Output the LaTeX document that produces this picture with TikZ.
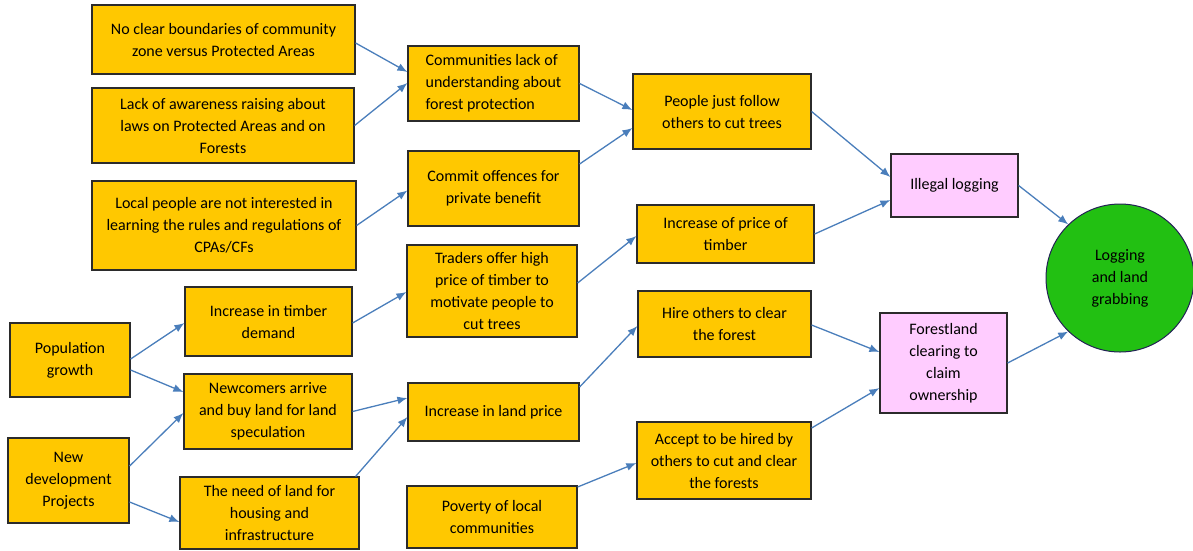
\documentclass[tikz,border=0pt]{standalone}
\usepackage{fontspec}
\setmainfont{Carlito}
\usetikzlibrary{calc,arrows.meta}
\definecolor{boxyellow}{HTML}{FFC800}
\definecolor{boxpink}{HTML}{FFCCFF}
\definecolor{goalgreen}{HTML}{22C012}
\definecolor{arrowblue}{HTML}{4A7EBB}
\definecolor{edge}{HTML}{2B2B2B}
\tikzset{
  cause/.style={draw=edge, line width=1.2pt, fill=boxyellow, align=center,
    inner sep=2pt, text=black, font=\fontsize{16}{22}\selectfont},
  effect/.style={cause, fill=boxpink},
  goal/.style={circle, draw=edge!80!blue, line width=1pt, fill=goalgreen, align=center,
    text=black, font=\fontsize{16}{22}\selectfont, inner sep=0pt},
  link/.style={draw=arrowblue, line width=1.3pt, -{Latex[length=10pt,width=8pt]}}
}
\newcommand{\boxat}[6]{% name, style, cx, cy, width, height
  \node[#2, minimum width=#5pt, minimum height=#6pt] (#1) at (#3,#4)}
\begin{document}
\begin{tikzpicture}[x=1pt,y=-1pt]
\useasboundingbox (0,0) rectangle (1193,550);

% root causes
\boxat{noclear}{cause}{223.5}{39.5}{263}{69} {No clear boundaries of community\\zone versus Protected Areas};
\boxat{lack}{cause}{223}{125.5}{262}{75} {Lack of awareness raising about\\laws on Protected Areas and on\\Forests};
\boxat{local}{cause}{224}{225.5}{264}{89} {Local people are not interested in\\learning the rules and regulations of\\CPAs/CFs};
\boxat{pop}{cause}{70}{360}{120}{74} {Population\\growth};
\boxat{newdev}{cause}{68.5}{480.5}{121}{85} {New\\development\\Projects};

% second column
\boxat{timberdem}{cause}{268.5}{321.5}{167}{69} {Increase in timber\\demand};
\boxat{newcomers}{cause}{268}{411.5}{168}{75} {Newcomers arrive\\and buy land for land\\speculation};
\boxat{needland}{cause}{269.5}{513}{179}{72} {The need of land for\\housing and\\infrastructure};

% third column
\boxat{commlack}{cause,align=left}{493.5}{83.5}{171}{75} {Communities lack of\\understanding about\\forest protection};
\boxat{commit}{cause}{493.5}{188.5}{171}{75} {Commit offences for\\private benefit};
\boxat{traders}{cause}{492}{291}{170}{92} {Traders offer high\\price of timber to\\motivate people to\\cut trees};
\boxat{landprice}{cause}{493.5}{412}{171}{58} {Increase in land price};
\boxat{poverty}{cause}{492}{517}{170}{62} {Poverty of local\\communities};

% fourth column
\boxat{people}{cause}{722}{111.5}{178}{75} {People just follow\\others to cut trees};
\boxat{priceT}{cause}{725.5}{234}{177}{58} {Increase of price of\\timber};
\boxat{hire}{cause}{724.5}{324}{173}{66} {Hire others to clear\\the forest};
\boxat{accept}{cause}{724}{460.5}{174}{77} {Accept to be hired by\\others to cut and clear\\the forests};

% direct drivers
\boxat{illegal}{effect}{954.5}{185.5}{127}{63} {Illegal logging};
\boxat{forestland}{effect}{943.5}{363}{127}{100} {Forestland\\clearing to\\claim\\ownership};

% core problem
\node[goal, minimum size=148pt] (core) at (1120,278) {Logging\\and land\\grabbing};

% connectors
\draw[link] ($(noclear.east)+(0,3.5)$) -- ($(commlack.west)+(0,-11.5)$);
\draw[link] (lack.east) -- ($(commlack.west)+(0,-0.5)$);
\draw[link] (local.east) -- ($(commit.west)+(0,2)$);
\draw[link] (commlack.east) -- ($(people.west)+(0,-1.5)$);
\draw[link] ($(commit.east)+(0,-24.5)$) -- ($(people.west)+(0,16.5)$);
\draw[link] (people.east) -- ($(illegal.west)+(0,-8.5)$);
\draw[link] (priceT.east) -- ($(illegal.west)+(0,14.5)$);
\draw[link] (illegal.east) -- (core.134);
\draw[link] (forestland.east) -- (core.226);

\draw[link] ($(pop.east)+(0,-1)$) -- ($(timberdem.west)+(0,1.5)$);
\draw[link] ($(pop.east)+(0,10)$) -- ($(newcomers.west)+(0,-19.5)$);
\draw[link] ($(newdev.east)+(0,-14.5)$) -- ($(newcomers.west)+(0,1.5)$);
\draw[link] ($(newdev.east)+(0,21.5)$) -- ($(needland.west)+(0,9)$);

\draw[link] ($(timberdem.east)+(0,1.5)$) -- ($(traders.west)+(0,1)$);
\draw[link] (newcomers.east) -- ($(landprice.west)+(0,-14)$);
\draw[link] ($(needland.north east)+(-4,0)$) -- ($(landprice.west)+(0,5)$);

\draw[link] ($(traders.east)+(0,-8)$) -- ($(priceT.west)+(0,2)$);
\draw[link] ($(landprice.east)+(0,-25)$) -- ($(hire.west)+(0,2)$);
\draw[link] ($(poverty.east)+(0,-30)$) -- ($(accept.west)+(0,2.5)$);
\draw[link] ($(hire.east)+(0,1)$) -- ($(forestland.west)+(0,-11)$);
\draw[link] ($(accept.east)+(0,-32.5)$) -- ($(forestland.west)+(0,25)$);
\end{tikzpicture}
\end{document}
